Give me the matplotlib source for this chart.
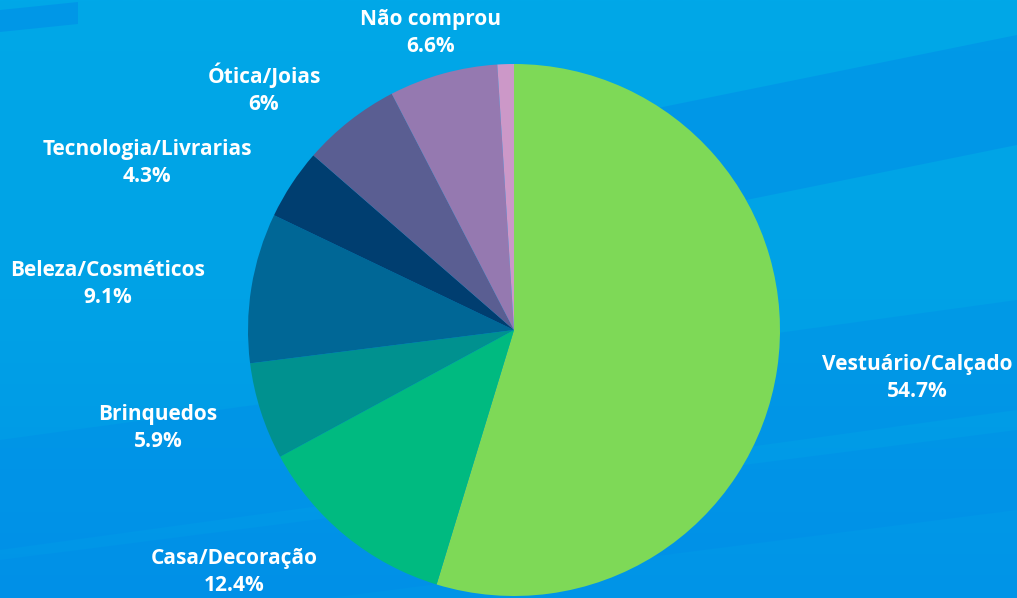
import numpy as np
import matplotlib.pyplot as plt
from matplotlib.patches import Polygon
from matplotlib.colors import LinearSegmentedColormap

# data
categories = ['Vestuário/Calçado', 'Casa/Decoração', 'Brinquedos', 'Beleza/Cosméticos',
              'Tecnologia/Livrarias', 'Ótica/Joias', 'Não comprou', 'Outros']
values = [54.7, 12.4, 5.9, 9.1, 4.3, 6.0, 6.6, 1.0]
pct_labels = ['54.7%', '12.4%', '5.9%', '9.1%', '4.3%', '6%', '6.6%', '']

colors = ['#7ED957', '#00BA80', '#00918F', '#006796', '#003E70', '#5A5E92', '#9579B0', '#CC98C8']

# label anchor points (pixel coords, y from top)
label_pos = [(917, 378), (234, 572), (158, 428), (108, 284),
             (147, 163), (264, 89), (431, 33), None]

W, H = 1017, 598
fig = plt.figure(figsize=(W / 100, H / 100), dpi=100)
ax = fig.add_axes([0, 0, 1, 1])
ax.set_xlim(0, W)
ax.set_ylim(0, H)
ax.axis('off')

# background: vertical gradient plus slanted darker bands
grad = np.linspace(0, 1, 256).reshape(-1, 1)
cmap = LinearSegmentedColormap.from_list('bg', ['#0094E8', '#00A2E6', '#00A8E8'])
ax.imshow(grad, extent=[0, W, 0, H], origin='lower', cmap=cmap, aspect='auto', zorder=0)

def band(y_left, y_right, thick, alpha, x0=0, x1=W, color='#0088E8'):
    pts = [(x0, H - y_left), (x1, H - y_right), (x1, H - y_right - thick), (x0, H - y_left - thick)]
    ax.add_patch(Polygon(pts, closed=True, facecolor=color, edgecolor='none', alpha=alpha, zorder=1))

band(10, 2, 22, 0.5, x0=0, x1=78)
band(140, 35, 110, 0.45, x0=500)
band(440, 300, 110, 0.3)
band(560, 430, 80, 0.3)

wedges, _ = ax.pie(values, colors=colors, startangle=90, counterclock=False,
                   center=(514, H - 330), radius=266,
                   wedgeprops=dict(linewidth=0, edgecolor='none'), frame=False)
for w in wedges:
    w.set_zorder(3)
ax.set_xlim(0, W)
ax.set_ylim(0, H)
ax.set_aspect('auto')

for name, pct, pos in zip(categories, pct_labels, label_pos):
    if pos is None:
        continue
    ax.text(pos[0], H - pos[1], name + '\n' + pct, ha='center', va='center',
            fontsize=15, fontweight='bold', family=['Open Sans', 'DejaVu Sans'],
            color='white', linespacing=1.38, zorder=4)

fig.savefig('out.png', dpi=100)
